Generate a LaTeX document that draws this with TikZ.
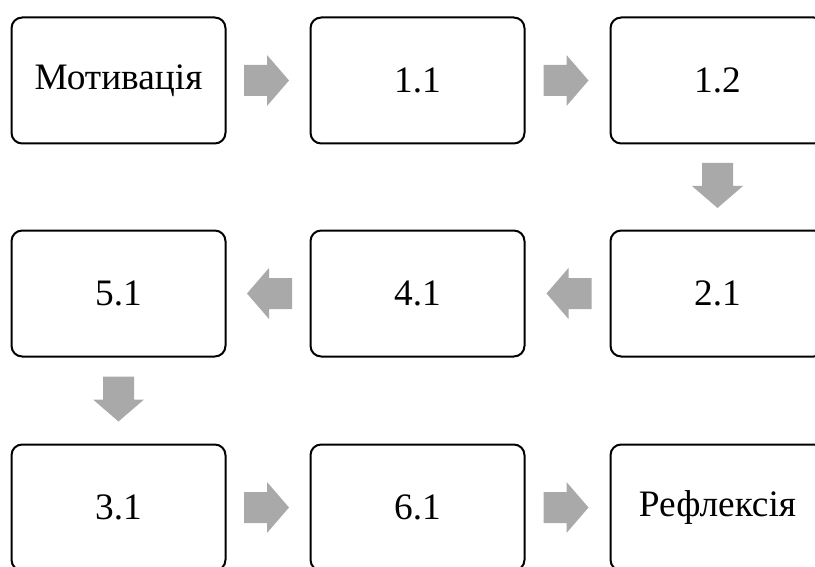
\documentclass[tikz,border=0pt]{standalone}
\usepackage{fontspec}
\setmainfont{Liberation Serif}
\usetikzlibrary{calc}
\definecolor{arrowgray}{HTML}{A9A9A9}
\tikzset{
  stagebox/.style={draw=black, line width=1.5pt, rounded corners=8pt,
    minimum width=160.5pt, minimum height=94.5pt, inner sep=0pt,
    font=\fontsize{28}{34}\selectfont, fill=white},
  blockarrow/.pic={
    \fill[arrowgray] (-22.5,-15.5) -- (0.5,-15.5) -- (0.5,-25.5) -- (22.5,0)
      -- (0.5,25.5) -- (0.5,15.5) -- (-22.5,15.5) -- cycle;
  }
}
\begin{document}
\begin{tikzpicture}[x=0.75pt, y=-0.75pt]
  \useasboundingbox (0,0) rectangle (815,567);
  % three rows of stages
  \node[stagebox] (mot) at (118.5,80.5)  {Мотивація};
  \node[stagebox] (s11) at (417.5,80.5)  {1.1};
  \node[stagebox] (s12) at (717.5,80.5)  {1.2};
  \node[stagebox] (s51) at (118.5,293.5) {5.1};
  \node[stagebox] (s41) at (417.5,293.5) {4.1};
  \node[stagebox] (s21) at (717.5,293.5) {2.1};
  \node[stagebox] (s31) at (118.5,507.5) {3.1};
  \node[stagebox] (s61) at (417.5,507.5) {6.1};
  \node[stagebox] (ref) at (717.5,507.5) {Рефлексія};
  % block arrows between consecutive stages
  \pic at ($(mot.east)!0.5!(s11.west)+(-1.5,0)$) {blockarrow};
  \pic at ($(s11.east)!0.5!(s12.west)+(-1.5,0)$) {blockarrow};
  \pic[rotate=-90] at ($(s12.south)!0.5!(s21.north)+(0,-1.5)$) {blockarrow};
  \pic[rotate=180] at ($(s21.west)!0.5!(s41.east)+(1.5,0)$) {blockarrow};
  \pic[rotate=180] at ($(s41.west)!0.5!(s51.east)+(1.5,0)$) {blockarrow};
  \pic[rotate=-90] at ($(s51.south)!0.5!(s31.north)+(0,-1.5)$) {blockarrow};
  \pic at ($(s31.east)!0.5!(s61.west)+(-1.5,0)$) {blockarrow};
  \pic at ($(s61.east)!0.5!(ref.west)+(-1.5,0)$) {blockarrow};
\end{tikzpicture}
\end{document}
